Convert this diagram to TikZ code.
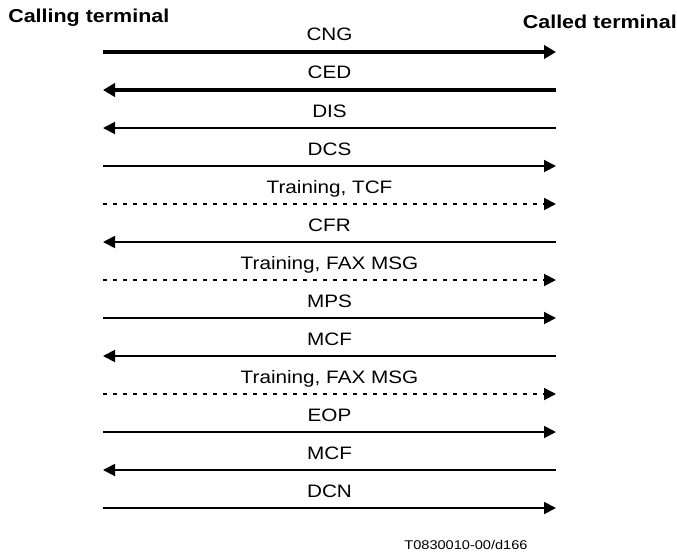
\documentclass[tikz,border=0pt]{standalone}
\usepackage{fontspec}
\setmainfont{Liberation Sans}
\newfontfamily\widefont[FakeStretch=1.15]{Liberation Sans}
\usetikzlibrary{arrows.meta}

\begin{document}
\begin{tikzpicture}[x=0.75pt, y=-0.75pt,
      msg/.style={line width=1.4pt, -{Triangle[length=9pt, width=9pt]}},
      tone/.style={msg, line width=2.6pt, -{Triangle[length=9pt, width=10pt]}},
      train/.style={msg, dash pattern=on 3pt off 4.5pt},
      lbl/.style={font=\widefont\fontsize{13.5}{16}\selectfont, above, midway,
                  inner sep=0pt, yshift=7.5pt, text depth=0pt},
      head/.style={font=\widefont\bfseries\fontsize{14}{16}\selectfont, inner sep=0pt}
    ]
    \useasboundingbox (0,0) rectangle (677,554);

    \node[head, anchor=west] (calling) at (8,18)   {Calling terminal};
    \node[head, anchor=east] (called)  at (677,22) {Called terminal};

    \foreach \n/\y in {cng/52, ced/90, dis/128, dcs/166, tcf/204, cfr/242,
                       msga/280, mps/318, mcfa/356, msgb/394, eop/432,
                       mcfb/470, dcn/508}{
      \coordinate (\n-l) at (103,\y);
      \coordinate (\n-r) at (556,\y);
    }

    \draw[tone]  (cng-l)  -- node[lbl]{CNG} (cng-r);
    \draw[tone]  (ced-r)  -- node[lbl]{CED} (ced-l);
    \draw[msg]   (dis-r)  -- node[lbl]{DIS} (dis-l);
    \draw[msg]   (dcs-l)  -- node[lbl]{DCS} (dcs-r);
    \draw[train] (tcf-l)  -- node[lbl]{Training, TCF} (tcf-r);
    \draw[msg]   (cfr-r)  -- node[lbl]{CFR} (cfr-l);
    \draw[train] (msga-l) -- node[lbl]{Training, FAX MSG} (msga-r);
    \draw[msg]   (mps-l)  -- node[lbl]{MPS} (mps-r);
    \draw[msg]   (mcfa-r) -- node[lbl]{MCF} (mcfa-l);
    \draw[train] (msgb-l) -- node[lbl]{Training, FAX MSG} (msgb-r);
    \draw[msg]   (eop-l)  -- node[lbl]{EOP} (eop-r);
    \draw[msg]   (mcfb-r) -- node[lbl]{MCF} (mcfb-l);
    \draw[msg]   (dcn-l)  -- node[lbl]{DCN} (dcn-r);

    \node[font=\widefont\fontsize{9.5}{11}\selectfont] (ref) at (466,545) {T0830010-00/d166};
  \end{tikzpicture}
\end{document}
